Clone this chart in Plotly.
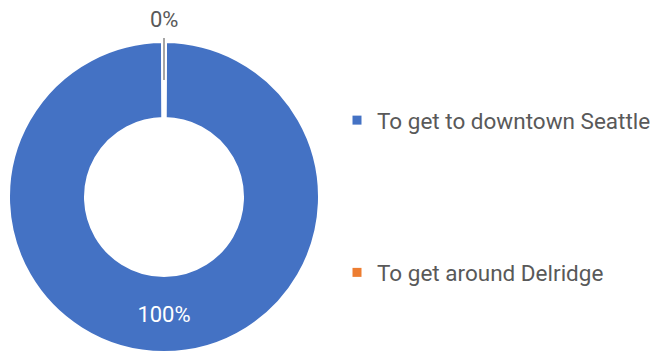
import plotly.graph_objects as go

categories = ["To get to downtown Seattle", "To get around Delridge"]
values = [100, 0.2]
colors = ["#4472C4", "#ED7D31"]
pct_labels = [f"{round(v / sum(values) * 100)}%" for v in values]

FONT = "Roboto"
TXT = "#595959"

W, H = 662, 352
# pie geometry in figure pixels (centre, radius)
CX, CY, R = 156, 189, 156
HOLE = 0.5

fig = go.Figure()

fig.add_trace(go.Pie(
    labels=categories,
    values=values,
    sort=False,
    direction="clockwise",
    rotation=180 * values[1] / sum(values),
    hole=HOLE,
    marker=dict(colors=colors, line=dict(color="white", width=4)),
    text=pct_labels,
    texttemplate=["%{text}", ""],
    textposition="inside",
    insidetextorientation="horizontal",
    insidetextfont=dict(color="white", size=22, family=FONT),
    showlegend=False,
    domain=dict(x=[(CX - R) / W, (CX + R) / W], y=[(H - CY - R) / H, (H - CY + R) / H]),
    hoverinfo="label+percent",
))

for i, (cat, col) in enumerate(zip(categories, colors)):
    fig.add_trace(go.Scatter(
        x=[None], y=[None], mode="markers", name=cat,
        legendgroup=f"g{i}",
        marker=dict(symbol="square", size=9, color=col),
    ))

# leader line from the outside label of the tiny slice to the middle of the ring
r_vis = R - 2
r_mid = (r_vis + (HOLE * R + 2)) / 2
fig.add_shape(type="line", xref="paper", yref="paper",
              x0=CX / W, x1=CX / W,
              y0=(H - (CY - r_vis - 5)) / H, y1=(H - (CY - r_mid)) / H,
              line=dict(color="#A6A6A6", width=2))
fig.add_annotation(text=pct_labels[1], xref="paper", yref="paper",
                   x=CX / W, y=(H - (CY - r_vis - 24)) / H,
                   xanchor="center", yanchor="middle", showarrow=False,
                   font=dict(family=FONT, size=22, color=TXT))

fig.update_layout(
    width=W, height=H,
    margin=dict(l=0, r=0, t=0, b=0, autoexpand=False),
    paper_bgcolor="white", plot_bgcolor="white",
    xaxis=dict(visible=False), yaxis=dict(visible=False),
    legend=dict(
        x=329 / W, y=(H - 91) / H, xanchor="left", yanchor="top",
        font=dict(family=FONT, size=22.5, color=TXT),
        tracegroupgap=120, itemwidth=30,
        bgcolor="rgba(0,0,0,0)",
    ),
)

fig.write_html("out.html")
